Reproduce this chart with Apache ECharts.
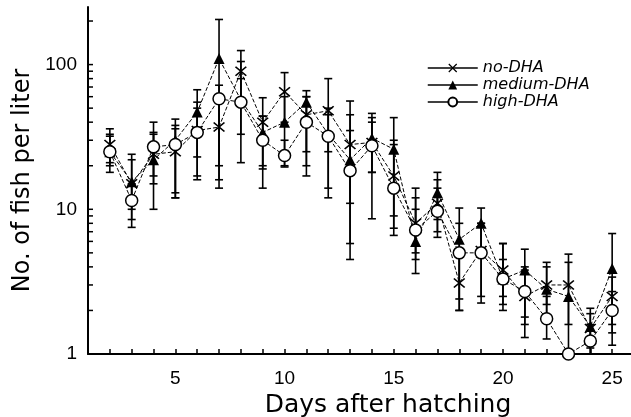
<!DOCTYPE html>
<html>
<head>
<meta charset="utf-8">
<script src="https://cdn.jsdelivr.net/npm/echarts@6/dist/echarts.min.js"></script>
<style>
  html, body { margin: 0; padding: 0; background: #fff; }
  #chart { width: 631px; height: 417px; }
</style>
</head>
<body>
<div id="chart"></div>
<script>
// days after hatching
const days = [2, 3, 4, 5, 6, 7, 8, 9, 10, 11, 12, 13, 14, 15, 16, 17, 18, 19, 20, 21, 22, 23, 24, 25]

// means (fish per liter)
const noDha = [28, 15, 24, 25, 35, 37, 90, 40, 65, 45, 48, 28, 29, 17, 8, 11, 3.1, 5.2, 3.8, 2.5, 3.0, 3.0, 1.5, 2.5]
const mediumDha = [25, 15.5, 22, 30, 47, 110, 57, 34, 40, 55, 33, 22, 31, 26, 6, 13, 6.2, 8, 3.3, 3.8, 2.8, 2.5, 1.55, 3.9]
const highDha = [25, 11.5, 27, 28, 34, 58, 55, 30, 23.5, 40, 32, 18.5, 27.5, 14, 7.2, 9.7, 5, 5, 3.3, 2.7, 1.75, 1.0, 1.23, 2.0]

// error bar ends
const noLow = [21, 10, 17, 12, 23, 20, 58, 20, 40, 25, 25, 11, 18, 9, 5, 7, 2.0, 2.5, 2.5, 1.6, 2.2, 1.6, 1.1, 1.6]
const noHigh = [36, 22, 34, 36, 50, 55, 125, 59, 88, 60, 80, 45, 43, 30, 12, 16, 5, 8, 5.8, 3.8, 4.3, 4.3, 1.9, 3.4]
const mediumLow = [18, 8.5, 10, 13, 17, 14, 21, 19, 20, 20, 12, 4.5, 8.6, 7.4, 3.6, 8.5, 2.0, 5, 2.0, 1.8, 1.8, 1.0, 1.0, 1.15]
const mediumHigh = [32, 24, 33, 42, 67, 205, 105, 44, 60, 66, 50, 56, 46, 43, 10, 18, 10.2, 10.2, 5.8, 5.3, 4.0, 4.9, 2.07, 6.8]
const highLow = [20, 7.5, 15, 12, 16, 16, 33, 14, 19.6, 17, 14, 5.8, 18, 6.6, 4.5, 6.4, 2.4, 2.25, 2.2, 1.3, 1.27, 1.0, 1.0, 1.4]
const highHigh = [33, 15, 40, 38, 55, 72, 80, 44, 30, 60, 45, 35, 40, 28, 14, 14, 8, 8, 4.5, 4.0, 2.5, 1.0, 1.6, 2.7]

// y tick positions (log axis, major + minor)
const yTicks = [1, 2, 3, 4, 5, 6, 7, 8, 9, 10, 20, 30, 40, 50, 60, 70, 80, 90, 100, 200]
const yLabels = [1, 10, 100]

const font = 'Liberation Sans'
const titleFont = 'DejaVu Sans'
const crossPath = 'path://M0,1L1,0L5,4L9,0L10,1L6,5L10,9L9,10L5,6L1,10L0,9L4,5Z'

const pairs = (ys) => days.map((d, i) => [d, ys[i]])
const bars = (lo, hi) => days.map((d, i) => [d, lo[i], hi[i]])

// 误差棒
const renderErrorBar = (params, api) => {
  const x = api.value(0)
  const lo = api.coord([x, api.value(1)])
  const hi = api.coord([x, api.value(2)])
  if (Math.abs(lo[1] - hi[1]) < 1) return null
  const w = 4
  const style = { stroke: '#000', lineWidth: 1.6 }
  return {
    type: 'group',
    children: [
      { type: 'line', shape: { x1: lo[0], y1: lo[1], x2: hi[0], y2: hi[1] }, style },
      { type: 'line', shape: { x1: hi[0] - w, y1: hi[1], x2: hi[0] + w, y2: hi[1] }, style },
      { type: 'line', shape: { x1: lo[0] - w, y1: lo[1], x2: lo[0] + w, y2: lo[1] }, style },
    ],
  }
}

const errorSeries = (name, lo, hi) => ({
  name: name + ' err',
  type: 'custom',
  renderItem: renderErrorBar,
  encode: { x: 0, y: [1, 2] },
  data: bars(lo, hi),
  silent: true,
  z: 1,
})

const lineBase = {
  type: 'line',
  lineStyle: { color: '#000', width: 1, type: [4, 2] },
  z: 3,
}

const chart = echarts.init(document.getElementById('chart'))

const option = {
  animation: false,
  backgroundColor: '#fff',
  grid: { left: 88, right: -3, top: 7, bottom: 63, containLabel: false, outerBoundsMode: 'none' },
  legend: {
    orient: 'vertical',
    left: 422,
    top: 55,
    itemWidth: 50,
    itemHeight: 11,
    itemGap: 1,
    data: ['no-DHA', 'medium-DHA', 'high-DHA'],
    lineStyle: { type: 'solid', width: 1.5, color: '#000' },
    textStyle: { fontFamily: titleFont, fontStyle: 'italic', fontSize: 16, lineHeight: 16, color: '#000' },
  },
  xAxis: {
    type: 'value',
    min: 1,
    max: 26,
    interval: 1,
    name: 'Days after hatching',
    nameLocation: 'middle',
    nameGap: 32,
    nameTextStyle: { fontFamily: titleFont, fontSize: 25, color: '#000', padding: [0, 0, 0, 54] },
    axisLine: { lineStyle: { color: '#000', width: 2 } },
    axisTick: { inside: true, length: 5, lineStyle: { color: '#000', width: 1.5 } },
    axisLabel: {
      fontFamily: font,
      fontSize: 19,
      color: '#000',
      margin: 15,
      formatter: (v) => (v % 5 === 0 ? String(v) : ''),
    },
    splitLine: { show: false },
  },
  yAxis: {
    type: 'log',
    logBase: 10,
    min: 1,
    max: 250,
    name: 'No. of fish per liter',
    nameLocation: 'middle',
    nameGap: 45,
    nameTextStyle: { fontFamily: titleFont, fontSize: 24, color: '#000' },
    axisLine: { show: true, lineStyle: { color: '#000', width: 2 } },
    axisTick: { show: false },
    axisLabel: {
      fontFamily: font,
      fontSize: 19,
      color: '#000',
      margin: 11,
      showMaxLabel: false,
      formatter: (v) => (yLabels.includes(Math.round(v)) ? String(Math.round(v)) : ''),
    },
    splitLine: { show: false },
  },
  series: [
    // y 轴刻度（含次刻度）
    {
      type: 'custom',
      silent: true,
      data: yTicks.map((v) => [1, v]),
      encode: { x: 0, y: 1 },
      renderItem: (params, api) => {
        const p = api.coord([api.value(0), api.value(1)])
        return {
          type: 'line',
          shape: { x1: p[0], y1: p[1], x2: p[0] + 5, y2: p[1] },
          style: { stroke: '#000', lineWidth: 1.5 },
        }
      },
      z: 5,
    },
    errorSeries('no-DHA', noLow, noHigh),
    errorSeries('medium-DHA', mediumLow, mediumHigh),
    errorSeries('high-DHA', highLow, highHigh),
    {
      ...lineBase,
      name: 'no-DHA',
      data: pairs(noDha),
      symbol: crossPath,
      symbolSize: [12, 10],
      itemStyle: { color: '#000', borderWidth: 0 },
    },
    {
      ...lineBase,
      name: 'medium-DHA',
      data: pairs(mediumDha),
      symbol: 'triangle',
      symbolSize: 11,
      itemStyle: { color: '#000', borderWidth: 0 },
    },
    {
      ...lineBase,
      name: 'high-DHA',
      data: pairs(highDha),
      symbol: 'circle',
      symbolSize: 12,
      itemStyle: { color: '#fff', borderColor: '#000', borderWidth: 1.5 },
    },
  ],
}

chart.setOption(option)
</script>
</body>
</html>
